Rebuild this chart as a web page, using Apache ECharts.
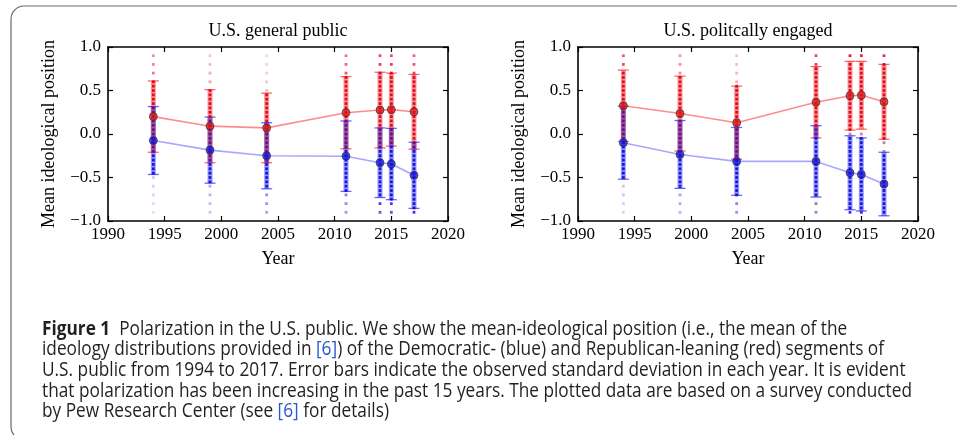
<!DOCTYPE html>
<html>
<head>
<meta charset="utf-8">
<script src="https://cdn.jsdelivr.net/npm/echarts@6/dist/echarts.min.js"></script>
<style>
  html, body { margin: 0; padding: 0; background: #fff; }
  #chart { width: 957px; height: 435px; }
</style>
</head>
<body>
<div id="chart"></div>
<script>
// Survey years
const years = [1994, 1999, 2004, 2011, 2014, 2015, 2017];

// Panel titles
const panelTitles = ['U.S. general public', 'U.S. politcally engaged'];

// U.S. general public: mean ideological position and standard deviation
const publicRepMean = [0.20, 0.09, 0.07, 0.245, 0.275, 0.28, 0.255];
const publicRepSd   = [0.41, 0.42, 0.40, 0.415, 0.435, 0.42, 0.43];
const publicDemMean = [-0.075, -0.185, -0.25, -0.255, -0.33, -0.345, -0.475];
const publicDemSd   = [0.39, 0.38, 0.38, 0.405, 0.40, 0.41, 0.38];

// U.S. politically engaged: mean ideological position and standard deviation
const engagedRepMean = [0.325, 0.235, 0.13, 0.365, 0.44, 0.445, 0.37];
const engagedRepSd   = [0.41, 0.43, 0.42, 0.41, 0.395, 0.39, 0.43];
const engagedDemMean = [-0.10, -0.235, -0.315, -0.315, -0.445, -0.465, -0.575];
const engagedDemSd   = [0.42, 0.39, 0.39, 0.41, 0.425, 0.42, 0.365];

// Shade of the distribution tails outside the error bars
const publicRepTail  = [0.6, 0.4, 0.28, 0.7, 0.85, 0.85, 0.75];
const publicDemTail  = [0.25, 0.4, 0.55, 0.6, 0.9, 0.9, 0.95];
const engagedRepTail = [0.75, 0.5, 0.35, 0.8, 0.95, 0.95, 0.9];
const engagedDemTail = [0.3, 0.45, 0.6, 0.65, 0.95, 0.95, 0.95];

// Positions on the ideology scale
const fineLevels = [0.9, 0.85, 0.8, 0.75, 0.7, 0.65, 0.6, 0.55, 0.5, 0.45, 0.4, 0.35, 0.3, 0.25,
  0.2, 0.15, 0.1, 0.05, 0, -0.05, -0.1, -0.15, -0.2, -0.25, -0.3, -0.35, -0.4, -0.45, -0.5,
  -0.55, -0.6, -0.65, -0.7, -0.75, -0.8, -0.85, -0.9];
const coarseLevels = [0.9, 0.8, 0.7, 0.6, 0.5, 0.4, 0.3, 0.2, 0.1, 0, -0.1, -0.2, -0.3, -0.4,
  -0.5, -0.6, -0.7, -0.8, -0.9];

const captionLines = [
  '{b|Figure 1}  Polarization in the U.S. public. We show the mean-ideological position (i.e., the mean of the',
  'ideology distributions provided in {l|[6]}) of the Democratic- (blue) and Republican-leaning (red) segments of',
  'U.S. public from 1994 to 2017. Error bars indicate the observed standard deviation in each year. It is evident',
  'that polarization has been increasing in the past 15 years. The plotted data are based on a survey conducted',
  'by Pew Research Center (see {l|[6]} for details)'
];

const panels = [
  { title: panelTitles[0], repMean: publicRepMean, repSd: publicRepSd, demMean: publicDemMean, demSd: publicDemSd,
    repTail: publicRepTail, demTail: publicDemTail, left: 108 },
  { title: panelTitles[1], repMean: engagedRepMean, repSd: engagedRepSd, demMean: engagedDemMean, demSd: engagedDemSd,
    repTail: engagedRepTail, demTail: engagedDemTail, left: 578 }
];

const SERIF = '"Liberation Serif", "Times New Roman", serif';
const gridW = 340, gridTop = 47, gridH = 174;

const grids = [], xAxes = [], yAxes = [], series = [], graphics = [];

function errorBarSeries(p, data, barColor, capColor) {
  return {
    type: 'custom', xAxisIndex: 2 * p, yAxisIndex: 2 * p, z: 2,
    encode: { x: 0, y: [1, 2] },
    data: data,
    renderItem: function (params, api) {
      const x = api.value(0), lo = api.value(1), hi = api.value(2);
      const a = api.coord([x, lo]), b = api.coord([x, hi]);
      const c = 5.5;
      return { type: 'group', children: [
        { type: 'line', shape: { x1: a[0], y1: a[1], x2: b[0], y2: b[1] }, style: { stroke: barColor, lineWidth: 5 } },
        { type: 'line', shape: { x1: a[0] - c, y1: a[1], x2: a[0] + c, y2: a[1] }, style: { stroke: capColor, lineWidth: 1.3 } },
        { type: 'line', shape: { x1: b[0] - c, y1: b[1], x2: b[0] + c, y2: b[1] }, style: { stroke: capColor, lineWidth: 1.3 } }
      ] };
    }
  };
}

panels.forEach(function (P, p) {
  grids.push({ left: P.left, top: gridTop, width: gridW, height: gridH, containLabel: false });

  const xBase = { gridIndex: p, type: 'value', min: 1990, max: 2020, interval: 5,
    axisLine: { show: true, onZero: false, lineStyle: { color: '#000', width: 1.6 } },
    axisTick: { show: true, inside: true, length: 5, lineStyle: { color: '#000', width: 1.2 } },
    splitLine: { show: false } };
  xAxes.push(Object.assign({}, xBase, { position: 'bottom',
    name: 'Year', nameLocation: 'middle', nameGap: 29,
    nameTextStyle: { fontFamily: SERIF, fontSize: 18, color: '#000' },
    axisLabel: { show: true, fontFamily: SERIF, fontSize: 17, color: '#000', margin: 5,
      formatter: function (v) { return String(v); } } }));
  xAxes.push(Object.assign({}, xBase, { position: 'top', axisLabel: { show: false } }));

  const yBase = { gridIndex: p, type: 'value', min: -1, max: 1, interval: 0.5,
    axisLine: { show: true, onZero: false, lineStyle: { color: '#000', width: 1.6 } },
    axisTick: { show: true, inside: true, length: 5, lineStyle: { color: '#000', width: 1.2 } },
    splitLine: { show: false } };
  yAxes.push(Object.assign({}, yBase, { position: 'left',
    name: 'Mean ideological position', nameLocation: 'middle', nameGap: 50,
    nameTextStyle: { fontFamily: SERIF, fontSize: 18, color: '#000' },
    axisLabel: { show: true, fontFamily: SERIF, fontSize: 17, color: '#000', margin: 7,
      formatter: function (v) { return (v < 0 ? '\u2212' : '') + Math.abs(v).toFixed(1); } } }));
  yAxes.push(Object.assign({}, yBase, { position: 'right', axisLabel: { show: false } }));

  // Error bars (one standard deviation)
  const repBars = years.map(function (y, i) { return [y, P.repMean[i] - P.repSd[i], P.repMean[i] + P.repSd[i]]; });
  const demBars = years.map(function (y, i) { return [y, P.demMean[i] - P.demSd[i], P.demMean[i] + P.demSd[i]]; });
  series.push(errorBarSeries(p, repBars, 'rgba(255,0,0,0.42)', 'rgba(255,0,0,0.6)'));
  series.push(errorBarSeries(p, demBars, 'rgba(0,0,255,0.4)', 'rgba(0,0,255,0.6)'));

  // Dotted ideology distributions in each year
  const dots = [];
  years.forEach(function (y, i) {
    const rLo = P.repMean[i] - P.repSd[i], rHi = P.repMean[i] + P.repSd[i];
    const bLo = P.demMean[i] - P.demSd[i], bHi = P.demMean[i] + P.demSd[i];
    fineLevels.forEach(function (v) {
      const inR = v >= rLo - 1e-9 && v <= rHi + 1e-9;
      const inB = v >= bLo - 1e-9 && v <= bHi + 1e-9;
      if (inR && inB) {
        dots.push({ value: [y, v], itemStyle: { color: '#6b0d5a', opacity: 0.9 } });
      } else if (inR) {
        dots.push({ value: [y, v], itemStyle: { color: '#d4001a', opacity: 0.9 } });
      } else if (inB) {
        dots.push({ value: [y, v], itemStyle: { color: '#0a0ad0', opacity: 0.9 } });
      } else if (coarseLevels.indexOf(v) >= 0) {
        const top = Math.max(rHi, bHi), bot = Math.min(rLo, bLo);
        if (v > top) {
          const fade = Math.max(0.4, 1 - (v - top) * 1.0);
          dots.push({ value: [y, v], itemStyle: { color: '#e8002a', opacity: P.repTail[i] * fade } });
        } else if (v < bot) {
          const fade = Math.max(0.4, 1 - (bot - v) * 1.0);
          dots.push({ value: [y, v], itemStyle: { color: '#3a1ae0', opacity: P.demTail[i] * fade } });
        } else {
          dots.push({ value: [y, v], itemStyle: { color: '#8a2080', opacity: 0.55 } });
        }
      }
    });
  });
  series.push({ type: 'scatter', xAxisIndex: 2 * p, yAxisIndex: 2 * p, z: 3, symbol: 'rect', symbolSize: 2.8,
    silent: true, data: dots });

  // Mean trajectories
  series.push({ type: 'line', xAxisIndex: 2 * p, yAxisIndex: 2 * p, z: 4,
    data: years.map(function (y, i) { return [y, P.repMean[i]]; }),
    symbol: 'circle', symbolSize: 8, showSymbol: true,
    lineStyle: { color: 'rgba(255,0,0,0.45)', width: 1.6 },
    itemStyle: { color: 'rgba(225,20,20,0.75)', borderColor: 'rgba(50,50,50,0.7)', borderWidth: 1 } });
  series.push({ type: 'line', xAxisIndex: 2 * p, yAxisIndex: 2 * p, z: 4,
    data: years.map(function (y, i) { return [y, P.demMean[i]]; }),
    symbol: 'circle', symbolSize: 8, showSymbol: true,
    lineStyle: { color: 'rgba(0,0,255,0.35)', width: 1.6 },
    itemStyle: { color: 'rgba(20,20,225,0.75)', borderColor: 'rgba(50,50,50,0.7)', borderWidth: 1 } });

  graphics.push({ type: 'text', x: P.left + gridW / 2, y: 31,
    style: { text: P.title, font: '18px ' + SERIF, fill: '#000', textAlign: 'center', textVerticalAlign: 'middle' } });
});

// Caption box and text
const CAP_FONT = '"Open Sans", "Noto Sans", sans-serif';
const CAP_SIZE = 19.5;
const measure = document.createElement('canvas').getContext('2d');
measure.font = CAP_SIZE + 'px ' + CAP_FONT;
const widest = measure.measureText(captionLines[3]).width;
const captionScale = 870 / widest;

graphics.push({ type: 'rect', shape: { x: 11, y: 6, width: 980, height: 434, r: 13 },
  style: { fill: 'none', stroke: '#6a6a6a', lineWidth: 1.2 }, z: 0 });
graphics.push({ type: 'text', x: 42, y: 319, scaleX: captionScale,
  style: {
    text: captionLines.join('\n'),
    fontFamily: CAP_FONT, fontSize: CAP_SIZE, lineHeight: 20.6, fill: '#231f20',
    textVerticalAlign: 'top',
    rich: {
      b: { fontFamily: CAP_FONT, fontSize: CAP_SIZE, fontWeight: 'bold', lineHeight: 20.6, fill: '#231f20' },
      l: { fontFamily: CAP_FONT, fontSize: CAP_SIZE, lineHeight: 20.6, fill: '#2b58c8' }
    }
  } });

const chart = echarts.init(document.getElementById('chart'), null, { renderer: 'canvas' });
chart.setOption({
  animation: false,
  backgroundColor: '#fff',
  grid: grids,
  xAxis: xAxes,
  yAxis: yAxes,
  series: series,
  graphic: graphics
});
</script>
</body>
</html>
